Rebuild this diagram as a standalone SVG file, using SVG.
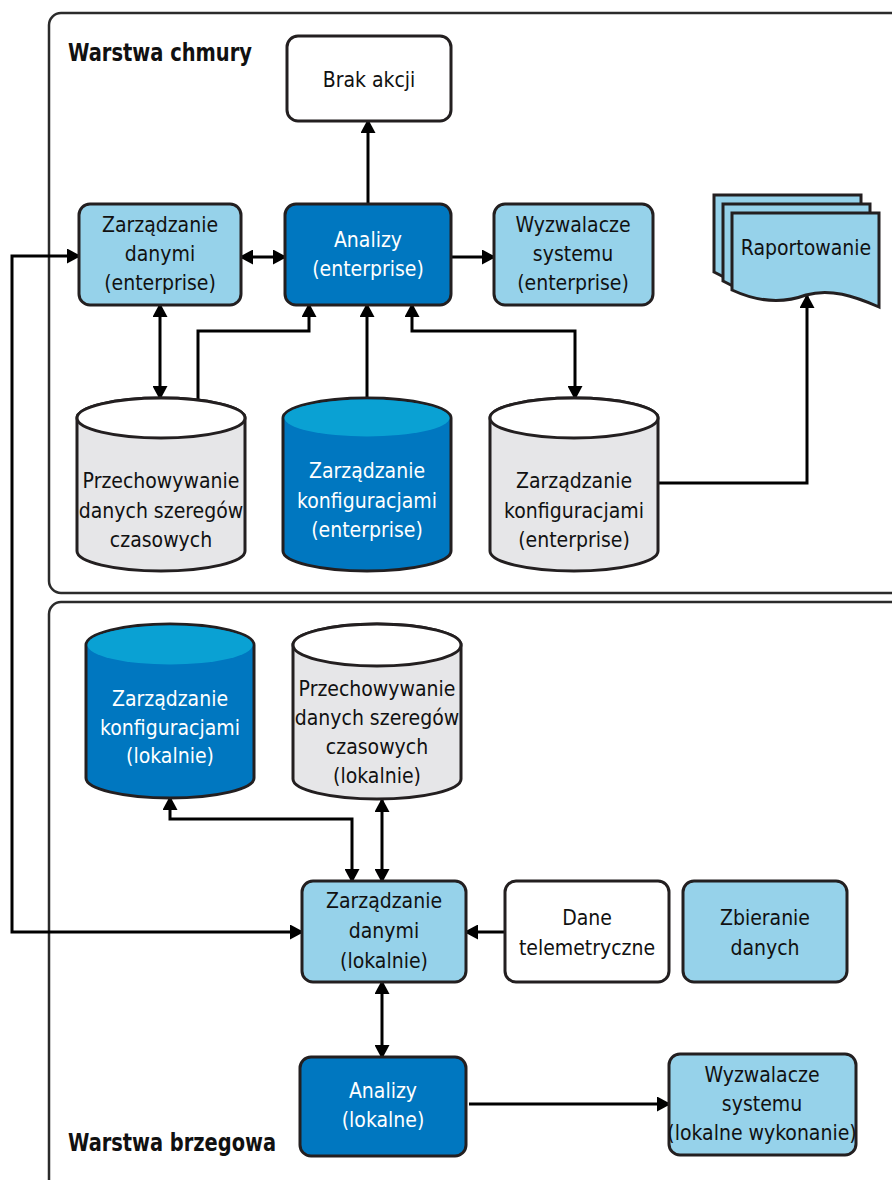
<svg xmlns="http://www.w3.org/2000/svg" width="892" height="1180" viewBox="0 0 892 1180">
<style>
.layer{fill:#fff;stroke:#2b2b2b;stroke-width:2.5}
.box{stroke:#231f20;stroke-width:3}
.lb{fill:#96d2ea}
.db{fill:#0077c0}
.wh{fill:#fff}
.gr{fill:#e6e6e8}
.t{font-family:"DejaVu Sans Condensed","DejaVu Sans",sans-serif;font-size:21px;text-anchor:middle;fill:#111}
.tw{fill:#fff}
.title{font-family:"DejaVu Sans Condensed","DejaVu Sans",sans-serif;font-size:24px;font-weight:bold;fill:#111}
.c{fill:none;stroke:#000;stroke-width:3}
</style>
<defs>
<marker id="a" viewBox="0 0 14 15" refX="12" refY="7.5" markerWidth="14" markerHeight="15" markerUnits="userSpaceOnUse" orient="auto-start-reverse">
<path d="M0,0 L14,7.5 L0,15 Z" fill="#000"/>
</marker>
</defs>

<rect class="layer" x="49" y="13" width="870" height="580" rx="12"/>
<rect class="layer" x="49" y="602" width="870" height="600" rx="12"/>
<text class="title" x="68" y="61" textLength="184" lengthAdjust="spacingAndGlyphs">Warstwa chmury</text>
<text class="title" x="68" y="1151" textLength="208" lengthAdjust="spacingAndGlyphs">Warstwa brzegowa</text>

<g id="connectors">
<path class="c" d="M368,204 V121" marker-end="url(#a)"/>
<path class="c" d="M241,257 H285" marker-start="url(#a)" marker-end="url(#a)"/>
<path class="c" d="M451,257 H494" marker-end="url(#a)"/>
<path class="c" d="M160,305 V398" marker-start="url(#a)" marker-end="url(#a)"/>
<path class="c" d="M198,399 V331 H309 V305" marker-end="url(#a)"/>
<path class="c" d="M367,398 V305" marker-end="url(#a)"/>
<path class="c" d="M412,305 V331 H575 V398" marker-start="url(#a)" marker-end="url(#a)"/>
<path class="c" d="M658,483 H807 V296" marker-end="url(#a)"/>
<path class="c" d="M79,256 H12 V932 H302" marker-start="url(#a)" marker-end="url(#a)"/>
<path class="c" d="M170,798 V819 H352 V881" marker-start="url(#a)" marker-end="url(#a)"/>
<path class="c" d="M382,800 V881" marker-start="url(#a)" marker-end="url(#a)"/>
<path class="c" d="M505,932 H466" marker-end="url(#a)"/>
<path class="c" d="M382,982 V1057" marker-start="url(#a)" marker-end="url(#a)"/>
<path class="c" d="M469,1104 H669" marker-end="url(#a)"/>
</g>

<g id="brak-akcji">
<rect class="box wh" x="287" y="36" width="164" height="85" rx="11"/>
<text class="t" x="369" y="87">Brak akcji</text>
</g>

<g id="zd-enterprise">
<rect class="box lb" x="79" y="204" width="162" height="101" rx="11"/>
<text class="t" x="160" y="232">Zarządzanie</text>
<text class="t" x="160" y="261">danymi</text>
<text class="t" x="160" y="290">(enterprise)</text>
</g>

<g id="analizy-enterprise">
<rect class="box db" x="285" y="204" width="166" height="101" rx="11"/>
<text class="t tw" x="368" y="247">Analizy</text>
<text class="t tw" x="368" y="276">(enterprise)</text>
</g>

<g id="wyzwalacze-enterprise">
<rect class="box lb" x="494" y="204" width="159" height="101" rx="11"/>
<text class="t" x="573" y="232">Wyzwalacze</text>
<text class="t" x="573" y="261">systemu</text>
<text class="t" x="573" y="290">(enterprise)</text>
</g>

<g id="raportowanie">
<path class="box lb" d="M714,195 H861 V289 C836,281 815,279 789,287 C764,295 740,286 714,272 Z"/>
<path class="box lb" d="M723,204 H870 V298 C845,290 824,288 798,296 C773,304 749,295 723,281 Z"/>
<path class="box lb" d="M732,213 H879 V307 C854,296 830,288 806,295 C782,304 758,302 732,290 Z"/>
<text class="t" x="806" y="255">Raportowanie</text>
</g>

<g id="ts-enterprise">
<path class="box gr" d="M77,418 V551 A84,20 0 0 0 245,551 V418 A84,20 0 0 0 77,418 Z"/>
<ellipse class="box wh" cx="161" cy="418" rx="84" ry="20"/>
<text class="t" x="161" y="488">Przechowywanie</text>
<text class="t" x="161" y="518">danych szeregów</text>
<text class="t" x="161" y="547">czasowych</text>
</g>

<g id="konfig-enterprise-dark">
<path class="box db" d="M283,418 V551 A84,20 0 0 0 451,551 V418 A84,20 0 0 0 283,418 Z"/>
<ellipse cx="367" cy="418" rx="82.5" ry="18.5" fill="#0aa1d3"/>
<text class="t tw" x="367" y="478">Zarządzanie</text>
<text class="t tw" x="367" y="508">konfiguracjami</text>
<text class="t tw" x="367" y="537">(enterprise)</text>
</g>

<g id="konfig-enterprise-gray">
<path class="box gr" d="M490,418 V551 A84,20 0 0 0 658,551 V418 A84,20 0 0 0 490,418 Z"/>
<ellipse class="box wh" cx="574" cy="418" rx="84" ry="20"/>
<text class="t" x="574" y="488">Zarządzanie</text>
<text class="t" x="574" y="518">konfiguracjami</text>
<text class="t" x="574" y="547">(enterprise)</text>
</g>

<g id="konfig-lokalnie">
<path class="box db" d="M86,645 V778 A84,20 0 0 0 254,778 V645 A84,21 0 0 0 86,645 Z"/>
<ellipse cx="170" cy="645" rx="82.5" ry="19.5" fill="#0aa1d3"/>
<text class="t tw" x="170" y="706">Zarządzanie</text>
<text class="t tw" x="170" y="735">konfiguracjami</text>
<text class="t tw" x="170" y="763">(lokalnie)</text>
</g>

<g id="ts-lokalnie">
<path class="box gr" d="M293,645 V779 A84,20 0 0 0 461,779 V645 A84,21 0 0 0 293,645 Z"/>
<ellipse class="box wh" cx="377" cy="645" rx="84" ry="21"/>
<text class="t" x="377" y="696">Przechowywanie</text>
<text class="t" x="377" y="725">danych szeregów</text>
<text class="t" x="377" y="754">czasowych</text>
<text class="t" x="377" y="783">(lokalnie)</text>
</g>

<g id="zd-lokalnie">
<rect class="box lb" x="302" y="881" width="164" height="101" rx="11"/>
<text class="t" x="384" y="908">Zarządzanie</text>
<text class="t" x="384" y="938">danymi</text>
<text class="t" x="384" y="968">(lokalnie)</text>
</g>

<g id="dane-telemetryczne">
<rect class="box wh" x="505" y="881" width="164" height="101" rx="11"/>
<text class="t" x="587" y="925">Dane</text>
<text class="t" x="587" y="955">telemetryczne</text>
</g>

<g id="zbieranie-danych">
<rect class="box lb" x="683" y="881" width="164" height="101" rx="11"/>
<text class="t" x="765" y="925">Zbieranie</text>
<text class="t" x="765" y="955">danych</text>
</g>

<g id="analizy-lokalne">
<rect class="box db" x="300" y="1057" width="166" height="99" rx="11"/>
<text class="t tw" x="383" y="1098">Analizy</text>
<text class="t tw" x="383" y="1127">(lokalne)</text>
</g>

<g id="wyzwalacze-lokalne">
<rect class="box lb" x="669" y="1054" width="187" height="101" rx="11"/>
<text class="t" x="762" y="1082">Wyzwalacze</text>
<text class="t" x="762" y="1111">systemu</text>
<text class="t" x="762" y="1140">(lokalne wykonanie)</text>
</g>
</svg>
